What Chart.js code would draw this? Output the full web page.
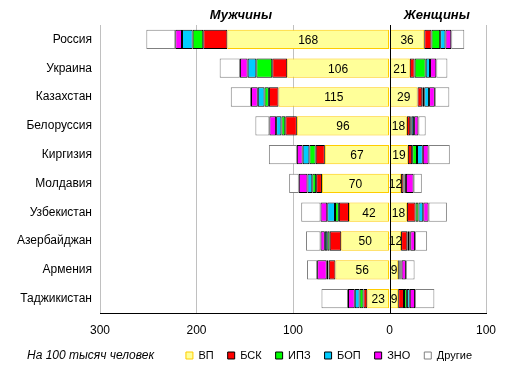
<!DOCTYPE html>
<html>
<head>
<meta charset="utf-8">
<script src="https://cdn.jsdelivr.net/npm/chart.js@4.4.0/dist/chart.umd.min.js"></script>
<style>
    html, body { margin: 0; padding: 0; background: #fff; }
</style>
</head>
<body>
<canvas id="chart" width="512" height="371"></canvas>
<script>
const countries = ['Россия', 'Украина', 'Казахстан', 'Белоруссия', 'Киргизия',
    'Молдавия', 'Узбекистан', 'Азербайджан', 'Армения', 'Таджикистан'];
const seriesNames = ['ВП', 'БСК', 'ИПЗ', 'БОП', 'ЗНО', 'Другие'];

// Мужчины (per 100k)
const menVP     = [168, 106, 115, 96, 67, 70, 42, 50, 56, 23];
const menBSK    = [25, 15.5, 10, 12, 9.5, 6, 10.5, 12, 7, 4];
const menIPZ    = [11, 16.5, 4.5, 4, 6.5, 4, 4, 2.5, 0.5, 4];
const menBOP    = [11, 9, 7, 5.5, 7, 5, 8, 2.5, 1.5, 5];
const menZNO    = [7, 8, 7, 7, 6, 9, 7, 4.5, 10, 7];
const menOther  = [30, 21, 21, 14.5, 29, 10, 20, 15, 10.5, 27.5];

// Женщины (per 100k)
const womenVP    = [36, 21, 29, 18, 19, 12, 18, 12, 9, 9];
const womenBSK   = [7.5, 5, 5, 3.5, 4.5, 2.5, 9, 6.5, 1.5, 6];
const womenIPZ   = [9, 11.5, 2, 1.5, 5, 1, 3, 2, 1, 3];
const womenBOP   = [5.5, 4.5, 5, 2.5, 6, 1.5, 5, 1, 1, 3];
const womenZNO   = [6, 6.5, 6, 4.5, 6, 8, 5.5, 5, 4.5, 5.5];
const womenOther = [13.5, 11.5, 15, 7.5, 22, 8.5, 19, 12.5, 9, 20];

const xTicks = [-300, -200, -100, 0, 100];

const fills = ['#FFFF99', '#FF0000', '#00FF00', '#00CCFF', '#FF00FF', '#FFFFFF'];
const edges = ['#FFCC00', '#000000', '#000000', '#000000', '#000000', '#808080'];

const menSeries = [menVP, menBSK, menIPZ, menBOP, menZNO, menOther];
const womenSeries = [womenVP, womenBSK, womenIPZ, womenBOP, womenZNO, womenOther];

function makeSet(name, values, i, sign) {
    return {
        label: name,
        data: values.map(v => v * sign),
        backgroundColor: fills[i],
        borderColor: edges[i],
        borderWidth: 1,
        borderSkipped: false,
        stack: 'all',
        barPercentage: 0.67,
        categoryPercentage: 1
    };
}

const datasets = [];
menSeries.forEach((vals, i) => datasets.push(makeSet(seriesNames[i], vals, i, -1)));
womenSeries.forEach((vals, i) => datasets.push(makeSet(seriesNames[i], vals, i, 1)));

// numbers inside the yellow parts, zero line, headers and unit note
const extras = {
    id: 'extras',
    afterDatasetsDraw(chart) {
        const ctx = chart.ctx;
        const x = chart.scales.x;
        const area = chart.chartArea;

        ctx.save();
        ctx.font = '12px "Liberation Sans", Arial, sans-serif';
        ctx.fillStyle = '#000';
        ctx.textAlign = 'center';
        ctx.textBaseline = 'middle';
        [0, 6].forEach(di => {
            const vals = di === 0 ? menVP : womenVP;
            chart.getDatasetMeta(di).data.forEach((el, i) => {
                ctx.fillText(String(vals[i]), (el.x + el.base) / 2, el.y + 1);
            });
        });

        const x0 = Math.round(x.getPixelForValue(0)) + 0.5;
        ctx.strokeStyle = '#000';
        ctx.lineWidth = 1;
        ctx.beginPath();
        ctx.moveTo(x0, area.top);
        ctx.lineTo(x0, area.bottom);
        ctx.stroke();

        ctx.font = 'italic bold 13px "Liberation Sans", Arial, sans-serif';
        ctx.fillText('Мужчины', x.getPixelForValue(-154), 15);
        ctx.fillText('Женщины', x.getPixelForValue(49), 15);

        ctx.font = 'italic 12px "Liberation Sans", Arial, sans-serif';
        ctx.textAlign = 'left';
        ctx.fillText('На 100 тысяч человек', 27, 356);
        ctx.restore();
    }
};

new Chart(document.getElementById('chart'), {
    type: 'bar',
    data: { labels: countries, datasets: datasets },
    options: {
        indexAxis: 'y',
        responsive: false,
        animation: false,
        layout: { padding: { left: 0, right: 26, top: 25, bottom: 0 } },
        plugins: {
            tooltip: { enabled: false },
            legend: {
                position: 'bottom',
                align: 'end',
                labels: {
                    boxWidth: 7,
                    boxHeight: 7,
                    padding: 14,
                    color: '#000',
                    font: { size: 11, family: '"Liberation Sans", Arial, sans-serif' },
                    filter: item => item.datasetIndex < 6
                }
            }
        },
        scales: {
            x: {
                stacked: true,
                min: -300,
                max: 100,
                afterBuildTicks: scale => { scale.ticks = xTicks.map(v => ({ value: v })); },
                afterFit: scale => { scale.height = 23; },
                grid: {
                    color: ctx => ctx.tick && ctx.tick.value === 0 ? 'rgba(0,0,0,0)' : '#C0C0C0',
                    drawTicks: false
                },
                border: { color: '#000' },
                ticks: {
                    padding: 10,
                    color: '#000',
                    font: { size: 12, family: '"Liberation Sans", Arial, sans-serif' },
                    callback: v => Math.abs(v)
                }
            },
            y: {
                stacked: true,
                afterFit: scale => { scale.width = 100; },
                grid: { display: false, drawTicks: false },
                border: { display: false },
                ticks: {
                    padding: 8,
                    color: '#000',
                    font: { size: 12, family: '"Liberation Sans", Arial, sans-serif' }
                }
            }
        }
    },
    plugins: [extras]
});
</script>
</body>
</html>
